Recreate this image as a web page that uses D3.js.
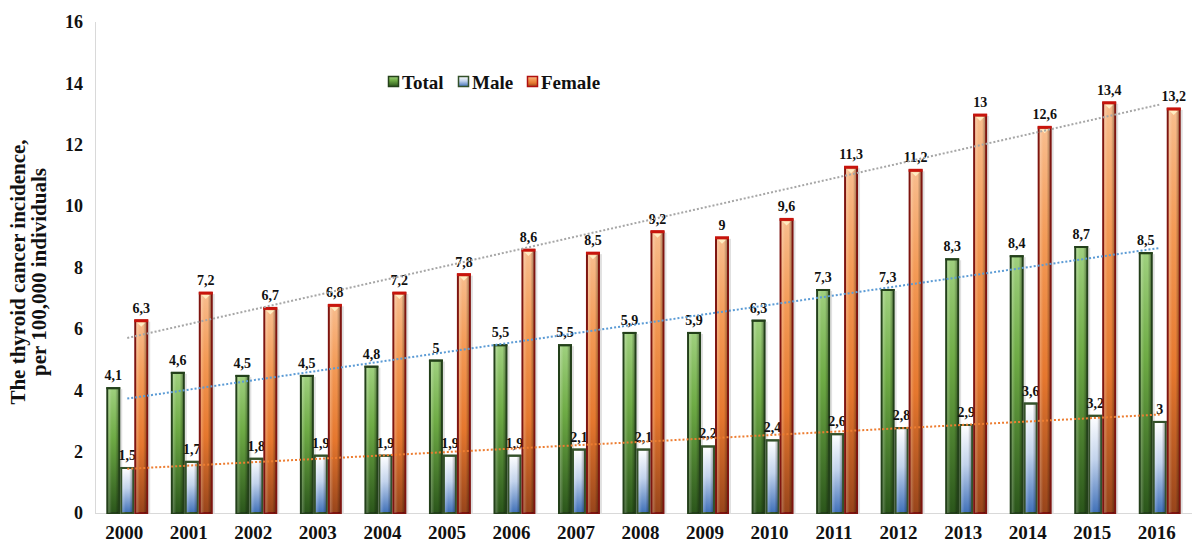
<!DOCTYPE html>
<html>
<head>
<meta charset="utf-8">
<script src="https://cdn.jsdelivr.net/npm/d3@7"></script>
<style>
  html, body { margin: 0; padding: 0; background: #fff; }
  svg { display: block; }
  text { font-family: "Liberation Serif", "Times New Roman", serif; font-weight: bold; fill: #111; }
</style>
</head>
<body>
<svg id="chart" width="1192" height="543"></svg>
<script>
const years = ["2000","2001","2002","2003","2004","2005","2006","2007","2008","2009","2010","2011","2012","2013","2014","2015","2016"];
const seriesNames = ["Total", "Male", "Female"];
const totalValues  = [4.1, 4.6, 4.5, 4.5, 4.8, 5, 5.5, 5.5, 5.9, 5.9, 6.3, 7.3, 7.3, 8.3, 8.4, 8.7, 8.5];
const maleValues   = [1.5, 1.7, 1.8, 1.9, 1.9, 1.9, 1.9, 2.1, 2.1, 2.2, 2.4, 2.6, 2.8, 2.9, 3.6, 3.2, 3];
const femaleValues = [6.3, 7.2, 6.7, 6.8, 7.2, 7.8, 8.6, 8.5, 9.2, 9, 9.6, 11.3, 11.2, 13, 12.6, 13.4, 13.2];
const yTicks = [0, 2, 4, 6, 8, 10, 12, 14, 16];

(function () {
const svg = d3.select("#chart");
const defs = svg.append("defs");

const mLeft = 95, mRight = 1192, mTop = 22, mBottom = 513;

const x0 = d3.scaleBand().domain(years).range([mLeft, mRight]).paddingInner(0.35).paddingOuter(0.175);
const x1 = d3.scaleBand().domain(seriesNames).range([0, x0.bandwidth()]);
const y = d3.scaleLinear().domain([0, 16]).range([mBottom, mTop]);

function vGrad(id, stops) {
  const g = defs.append("linearGradient").attr("id", id).attr("x1", 0).attr("y1", 0).attr("x2", 0).attr("y2", 1);
  stops.forEach(s => g.append("stop").attr("offset", s[0]).attr("stop-color", s[1]));
}
vGrad("gTotal",  [[0, "#9fd07e"], [0.4, "#6eab45"], [1, "#2b561b"]]);
vGrad("gMale",   [[0, "#ffffff"], [0.45, "#c2d3ec"], [1, "#3f70b8"]]);
vGrad("gFemale", [[0, "#f8bd8e"], [0.3, "#f39a56"], [0.65, "#e5772e"], [1, "#98451b"]]);
const hg = defs.append("linearGradient").attr("id", "hShade").attr("x1", 0).attr("y1", 0).attr("x2", 1).attr("y2", 0);
hg.append("stop").attr("offset", 0).attr("stop-color", "#fff").attr("stop-opacity", 0.25);
hg.append("stop").attr("offset", 0.35).attr("stop-color", "#fff").attr("stop-opacity", 0);
hg.append("stop").attr("offset", 0.7).attr("stop-color", "#000").attr("stop-opacity", 0);
hg.append("stop").attr("offset", 1).attr("stop-color", "#000").attr("stop-opacity", 0.3);

const styles = {
  Total:  { fill: "url(#gTotal)",  stroke: "#23401a", topStroke: "#23401a" },
  Male:   { fill: "url(#gMale)",   stroke: "#34512a", topStroke: "#34512a" },
  Female: { fill: "url(#gFemale)", stroke: "#7e1510", topStroke: "#c8140c" }
};
const valuesBySeries = { Total: totalValues, Male: maleValues, Female: femaleValues };

svg.append("line").attr("x1", mLeft + 0.5).attr("x2", mLeft + 0.5).attr("y1", mTop).attr("y2", mBottom)
  .attr("stroke", "#d9d9d9").attr("stroke-width", 1);
svg.append("line").attr("x1", mLeft).attr("x2", mRight).attr("y1", mBottom + 0.5).attr("y2", mBottom + 0.5)
  .attr("stroke", "#d9d9d9").attr("stroke-width", 1);

svg.append("g").selectAll("text").data(yTicks).join("text")
  .attr("x", 83).attr("y", d => y(d)).attr("dy", "0.35em")
  .attr("text-anchor", "end").style("font-size", "18px").text(d => d);

const yt = svg.append("text").attr("transform", `translate(30, 272) rotate(-90)`)
  .attr("text-anchor", "middle").style("font-size", "21px");
yt.append("tspan").attr("x", 0).attr("dy", "-0.22em").text("The thyroid cancer incidence,");
yt.append("tspan").attr("x", 0).attr("dy", "0.98em").text("per 100,000 individuals");

svg.append("g").selectAll("text").data(years).join("text")
  .attr("x", d => x0(d) + x0.bandwidth() / 2 - 3).attr("y", 539)
  .attr("text-anchor", "middle").style("font-size", "19px").text(d => d);

const fmt = v => String(v).replace(".", ",");

seriesNames.forEach(s => {
  const vals = valuesBySeries[s];
  const st = styles[s];
  const g = svg.append("g");
  const bw = x1.bandwidth();
  years.forEach((yr, i) => {
    const bx = x0(yr) + x1(s);
    const by = y(vals[i]);
    const h = mBottom - by;
    g.append("rect").attr("x", bx + 2).attr("y", by + 2).attr("width", bw).attr("height", h - 2)
      .attr("fill", "#000").attr("opacity", 0.12);
    g.append("rect").attr("x", bx + 1).attr("y", by + 1).attr("width", bw - 2).attr("height", h - 1)
      .attr("fill", st.fill).attr("stroke", st.stroke).attr("stroke-width", 2);
    g.append("rect").attr("x", bx + 2).attr("y", by + 2).attr("width", bw - 4).attr("height", h - 2)
      .attr("fill", "url(#hShade)");
    g.append("line").attr("x1", bx).attr("x2", bx + bw).attr("y1", by + 1).attr("y2", by + 1)
      .attr("stroke", st.topStroke).attr("stroke-width", s === "Female" ? 3 : 2);
    if (s === "Female") {
      const cx = bx + bw / 2;
      g.append("path").attr("d", `M${cx - 4},${by + 3}L${cx + 4},${by + 3}L${cx},${by + 7}Z`)
        .attr("fill", "#fff2c8").attr("opacity", 0.9);
    }
    g.append("text").attr("x", bx + bw / 2).attr("y", by - 7).attr("text-anchor", "middle")
      .style("font-size", "14px").text(fmt(vals[i]));
  });
});

function trend(vals) {
  const n = vals.length;
  const mx = (n - 1) / 2;
  const my = d3.mean(vals);
  let sxy = 0, sxx = 0;
  vals.forEach((v, i) => { sxy += (i - mx) * (v - my); sxx += (i - mx) * (i - mx); });
  const b = sxy / sxx, a = my - b * mx;
  return [a, a + b * (n - 1)];
}
const trendSpecs = [
  { vals: femaleValues, color: "#a6a6a6" },
  { vals: totalValues,  color: "#5b9bd5" },
  { vals: maleValues,   color: "#ed7d31" }
];
const cFirst = x0(years[0]) + x0.bandwidth() / 2;
const cLast = x0(years[years.length - 1]) + x0.bandwidth() / 2;
trendSpecs.forEach(t => {
  const [v0, v1] = trend(t.vals);
  svg.append("line").attr("x1", cFirst).attr("x2", cLast).attr("y1", y(v0)).attr("y2", y(v1))
    .attr("stroke", t.color).attr("stroke-width", 2).attr("stroke-dasharray", "2,2");
});

const legend = svg.append("g");
const legItems = [
  { name: "Total", x: 388, fill: "url(#gTotal)", stroke: "#25421a" },
  { name: "Male", x: 458, fill: "url(#gMale)", stroke: "#34512a" },
  { name: "Female", x: 527, fill: "url(#gFemale)", stroke: "#b01010" }
];
legItems.forEach(it => {
  legend.append("rect").attr("x", it.x + 0.5).attr("y", 76.5).attr("width", 10).attr("height", 10)
    .attr("fill", it.fill).attr("stroke", it.stroke).attr("stroke-width", 1.5);
  legend.append("text").attr("x", it.x + 14).attr("y", 82).attr("dy", "0.35em")
    .style("font-size", "19px").text(it.name);
});
})();
</script>
</body>
</html>
